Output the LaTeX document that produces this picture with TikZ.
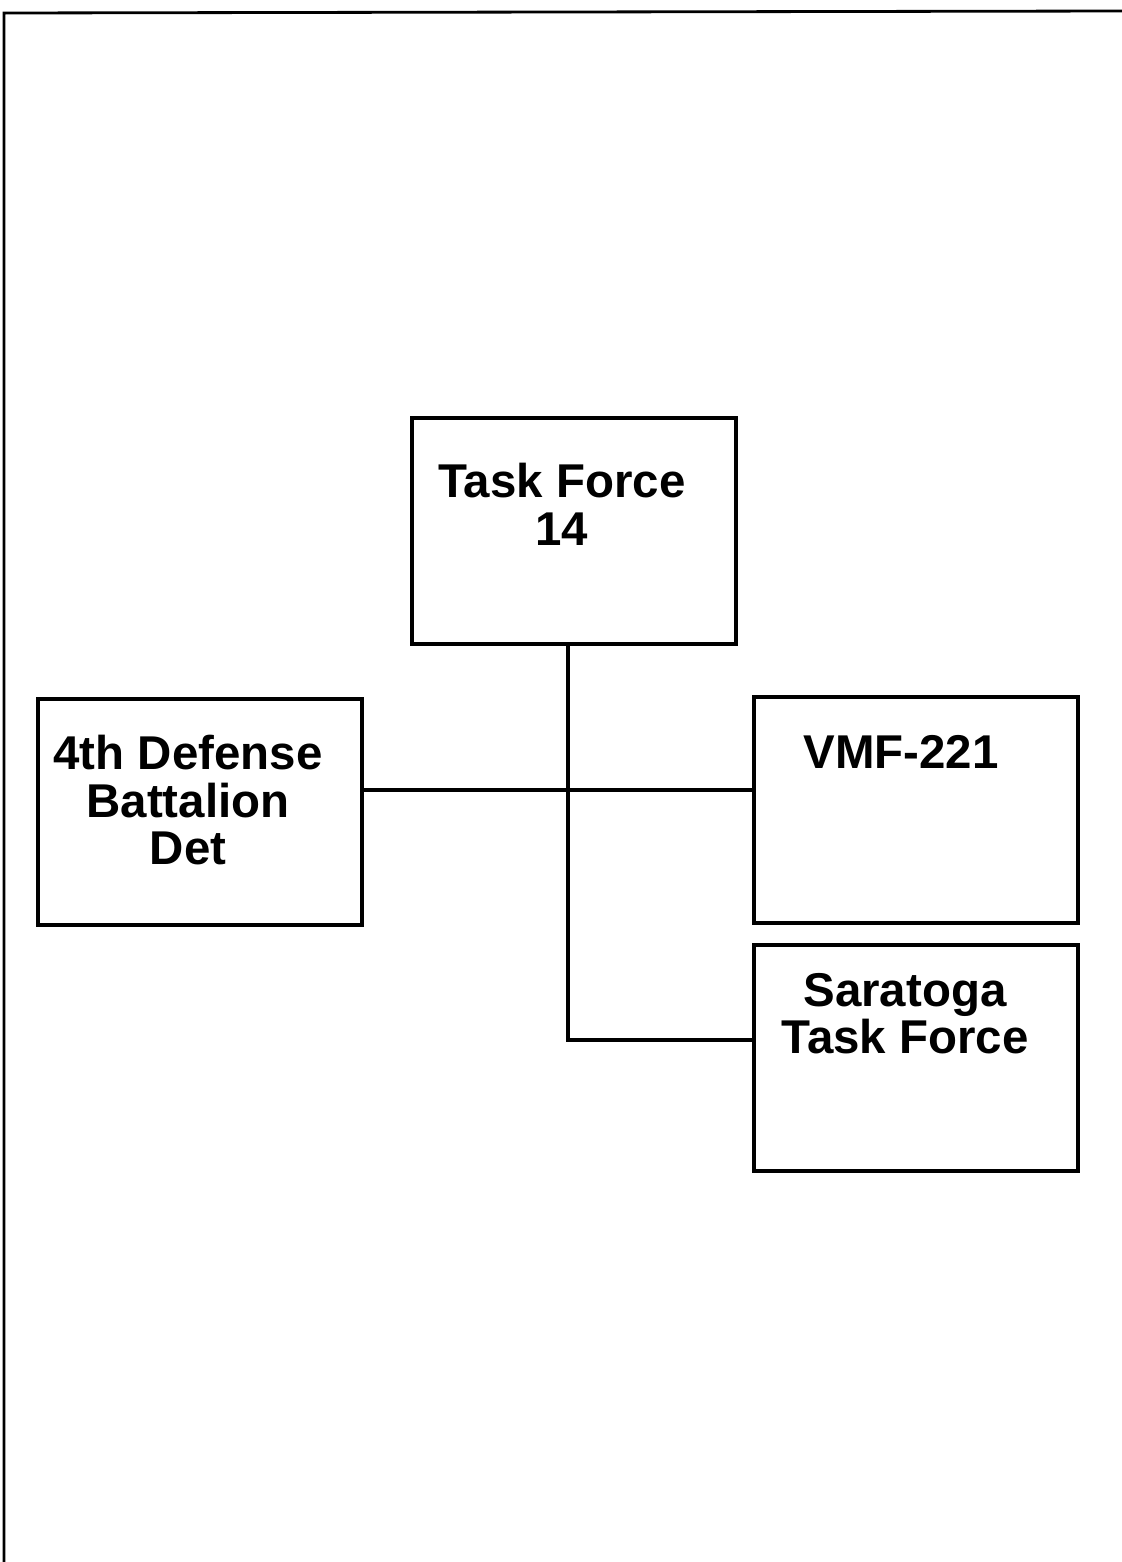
\documentclass[tikz,border=0pt]{standalone}
\usepackage{fontspec}
\setmainfont{Liberation Sans}
\tikzset{
  unit/.style={draw, line width=2.2pt, minimum width=6.48cm, minimum height=4.52cm, inner sep=0pt},
  unitname/.style={font=\fontsize{27}{27}\selectfont\bfseries, align=center, inner sep=0pt, anchor=north},
  link/.style={line width=2pt}
}
\begin{document}
\begin{tikzpicture}[x=0.02cm, y=-0.02cm]
  \useasboundingbox (0,0) rectangle (1122,1562);
  % page frame (only top and left edges show)
  \draw[line width=1.6pt] (4,1562) -- (4,13) -- (1122,11);
  % the four boxes
  \node[unit] (tf)   at (574,531)  {};
  \node[unit] (def)  at (200,812)  {};
  \node[unit] (vmf)  at (916,810)  {};
  \node[unit] (sara) at (916,1058) {};
  \node[unitname] (tfname)   at (562,463)  {Task Force\\14};
  \node[unitname] (defname)  at (188,735)  {4th Defense\\Battalion\\Det};
  \node[unitname] (vmfname)  at (901,735)  {VMF-221};
  \node[unitname] (saraname) at (905,973)  {Saratoga\\Task Force};
  % connectors
  \coordinate (bend)  at (568,1040);
  \coordinate (cross) at (568,790);
  \draw[link] (tf.south -| bend) -- (bend) -- (bend -| sara.west);
  \draw[link] (def.east |- cross) -- (vmf.west |- cross);
\end{tikzpicture}
\end{document}
